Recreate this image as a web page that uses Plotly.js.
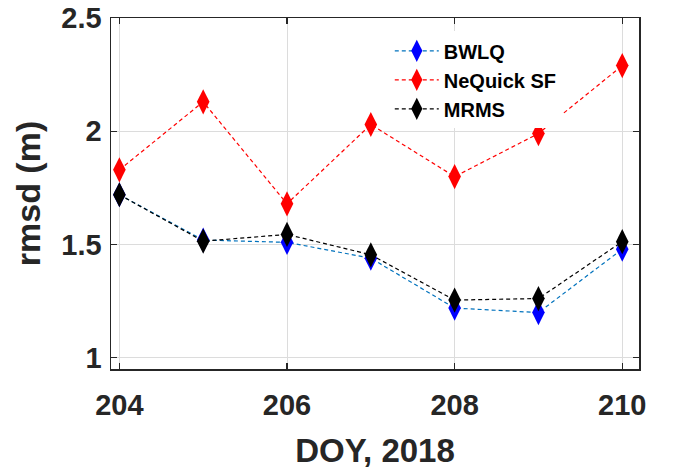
<!DOCTYPE html>
<html><head><meta charset="utf-8">
<script src="https://cdn.plot.ly/plotly-3.0.1.min.js"></script>
<style>html,body{margin:0;padding:0;background:#fff}</style>
</head><body>
<div id="chart" style="width:674px;height:469px"></div>
<script>
var doy = [204, 205, 206, 207, 208, 209, 210];
var bwlq = [1.72, 1.52, 1.51, 1.44, 1.22, 1.20, 1.48];
var nequick = [1.83, 2.13, 1.68, 2.03, 1.80, 1.99, 2.29];
var mrms = [1.72, 1.515, 1.545, 1.455, 1.255, 1.262, 1.513];
var xTicks = [204, 206, 208, 210];
var yTicks = [1, 1.5, 2, 2.5];

var FONT = 'Liberation Sans, Arial, sans-serif';
function tr(name, y, lineColor, markColor) {
  return {
    x: doy, y: y, name: name, type: 'scatter', mode: 'lines+markers',
    line: {color: lineColor, width: 1.2, dash: '4px,3px'},
    marker: {symbol: 'diamond-tall', size: 18, color: markColor}
  };
}
var data = [
  tr('BWLQ', bwlq, '#0072BD', '#0000FF'),
  tr('NeQuick SF', nequick, '#FF0000', '#FF0000'),
  tr('MRMS', mrms, '#000000', '#000000')
];
var axCommon = {
  showline: true, linecolor: '#262626', linewidth: 1.5, mirror: 'ticks',
  ticks: 'inside', ticklen: 6, tickcolor: '#262626', tickwidth: 1.2,
  showgrid: true, gridcolor: '#dcdcdc', gridwidth: 1, zeroline: false,
  tickfont: {family: FONT, size: 29, color: '#262626', weight: 'bold'}
};
var layout = {
  width: 674, height: 469,
  margin: {l: 111, r: 35, t: 18, b: 100},
  paper_bgcolor: '#fff', plot_bgcolor: '#fff',
  showlegend: true,
  legend: {x: 0.528, y: 0.962, xanchor: 'left', yanchor: 'top', bgcolor: 'rgba(255,255,255,1)',
    font: {family: FONT, size: 20, color: '#000', weight: 'bold'},
    tracegroupgap: 0, itemwidth: 44},
  xaxis: Object.assign({}, axCommon, {
    range: [203.9, 210.2], tickmode: 'array', tickvals: xTicks, ticklabelstandoff: 10,
    title: {text: 'DOY, 2018', standoff: 18, font: {family: FONT, size: 33, color: '#262626', weight: 'bold'}}
  }),
  yaxis: Object.assign({}, axCommon, {
    range: [0.951, 2.5], tickmode: 'array', tickvals: yTicks, ticklabelstandoff: 2,
    title: {text: 'rmsd (m)', standoff: 10, font: {family: FONT, size: 34, color: '#262626', weight: 'bold'}}
  })
};
Plotly.newPlot('chart', data, layout, {displayModeBar: false, staticPlot: true});
</script>
</body></html>
